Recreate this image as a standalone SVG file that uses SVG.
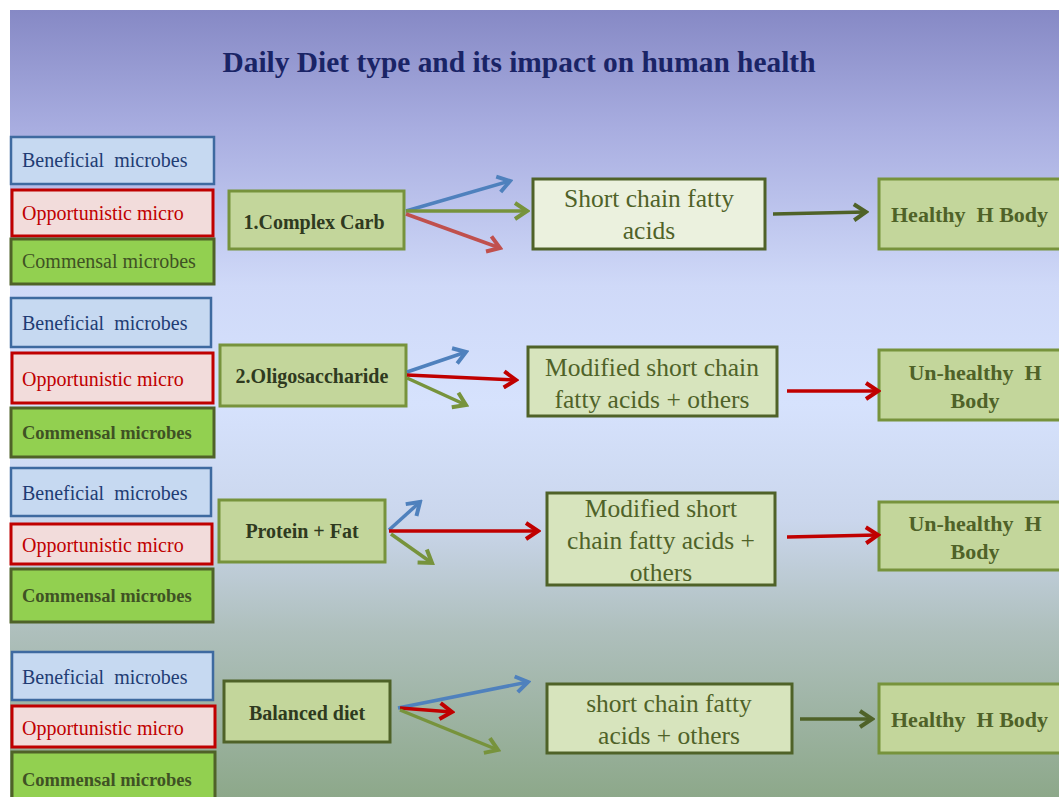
<svg xmlns="http://www.w3.org/2000/svg" width="1059" height="797" viewBox="0 0 1059 797">
<defs>
<linearGradient id="bg" x1="0" y1="10" x2="0" y2="797" gradientUnits="userSpaceOnUse">
<stop offset="0" stop-color="#8689c5"/>
<stop offset="0.15" stop-color="#a8ade0"/>
<stop offset="0.35" stop-color="#cfd9f8"/>
<stop offset="0.5" stop-color="#d6e2fd"/>
<stop offset="0.65" stop-color="#cad6ec"/>
<stop offset="0.79" stop-color="#aebfbc"/>
<stop offset="1" stop-color="#8da88a"/>
</linearGradient>
<marker id="mB" viewBox="0 0 20 20" refX="17" refY="10" markerWidth="20" markerHeight="20" markerUnits="userSpaceOnUse" orient="auto"><path d="M5,2 L17,10 L5,18" fill="none" stroke="#4f81bd" stroke-width="4"/></marker>
<marker id="mG" viewBox="0 0 20 20" refX="17" refY="10" markerWidth="20" markerHeight="20" markerUnits="userSpaceOnUse" orient="auto"><path d="M5,2 L17,10 L5,18" fill="none" stroke="#77933c" stroke-width="4"/></marker>
<marker id="mR" viewBox="0 0 20 20" refX="17" refY="10" markerWidth="20" markerHeight="20" markerUnits="userSpaceOnUse" orient="auto"><path d="M5,2 L17,10 L5,18" fill="none" stroke="#c0504d" stroke-width="4"/></marker>
<marker id="mRR" viewBox="0 0 20 20" refX="17" refY="10" markerWidth="20" markerHeight="20" markerUnits="userSpaceOnUse" orient="auto"><path d="M5,2 L17,10 L5,18" fill="none" stroke="#c00000" stroke-width="4"/></marker>
<marker id="mD" viewBox="0 0 20 20" refX="17" refY="10" markerWidth="20" markerHeight="20" markerUnits="userSpaceOnUse" orient="auto"><path d="M5,2 L17,10 L5,18" fill="none" stroke="#4f6228" stroke-width="4"/></marker>
</defs>
<style>
text{font-family:"Liberation Serif","Times New Roman",serif;white-space:pre}
.ben rect{fill:#c6d9f1;stroke:#3e6aa0;stroke-width:2.5}
.ben text{fill:#1f3c74;font-size:20px}
.opp rect{fill:#f2dcdb;stroke:#c00000;stroke-width:3}
.opp text{fill:#c00000;font-size:20px}
.com rect{fill:#92d050;stroke:#4f6228;stroke-width:3}
.com text{fill:#3f5224;font-size:18.5px;font-weight:bold}
.com text.n{font-size:20px;font-weight:normal}
.diet rect{fill:#c3d69b;stroke:#77933c;stroke-width:3}
.diet text{fill:#2f3a20;font-size:20px;font-weight:bold;text-anchor:middle}
.prod rect{fill:#d7e4bd;stroke:#4f6228;stroke-width:3}
.prod text{fill:#4f6228;font-size:25.5px;text-anchor:middle}
.out rect{fill:#c3d69b;stroke:#77933c;stroke-width:3}
.out text{fill:#4f6228;font-size:22px;font-weight:bold}
.out text.c{text-anchor:middle}
.cn path{fill:none;stroke-width:3.5}
.b{stroke:#4f81bd}.g{stroke:#77933c}.r{stroke:#c0504d}.rr{stroke:#c00000}.d{stroke:#4f6228}
</style>
<rect x="0" y="0" width="1059" height="797" fill="#ffffff"/>
<rect x="10" y="10" width="1049" height="787" fill="url(#bg)"/>
<text id="title" x="519" y="72" text-anchor="middle" font-size="29" font-weight="bold" fill="#1a2466" textLength="593" lengthAdjust="spacingAndGlyphs">Daily Diet type and its impact on human health</text>

<!-- Row 1 -->
<g id="ben1" class="ben"><rect x="11" y="137" width="203" height="47"/><text x="22" y="167">Beneficial  microbes</text></g>
<g id="opp1" class="opp"><rect x="12" y="190" width="201" height="46"/><text x="22" y="220">Opportunistic micro</text></g>
<g id="com1" class="com"><rect x="11" y="239" width="203" height="45"/><text class="n" x="22" y="268">Commensal microbes</text></g>
<g id="diet1" class="diet"><rect x="229" y="191" width="175" height="58"/><text x="314" y="229">1.Complex Carb</text></g>
<g id="prod1" class="prod"><rect x="533" y="179" width="232" height="70" style="fill:#ebf1de"/><text x="649" y="207">Short chain fatty</text><text x="649" y="239">acids</text></g>
<g id="out1" class="out"><rect x="879" y="179" width="186" height="70"/><text x="891" y="222">Healthy  H Body</text></g>

<!-- Row 2 -->
<g id="ben2" class="ben"><rect x="11" y="298" width="200" height="49"/><text x="22" y="330">Beneficial  microbes</text></g>
<g id="opp2" class="opp"><rect x="12" y="353" width="201" height="50"/><text x="22" y="386">Opportunistic micro</text></g>
<g id="com2" class="com"><rect x="11" y="408" width="203" height="49"/><text x="22" y="439">Commensal microbes</text></g>
<g id="diet2" class="diet"><rect x="220" y="345" width="186" height="61"/><text x="312" y="383">2.Oligosaccharide</text></g>
<g id="prod2" class="prod"><rect x="528" y="347" width="249" height="69"/><text x="652" y="376">Modified short chain</text><text x="652" y="408">fatty acids + others</text></g>
<g id="out2" class="out"><rect x="879" y="350" width="186" height="70"/><text class="c" x="975" y="380">Un-healthy  H</text><text class="c" x="975" y="408">Body</text></g>

<!-- Row 3 -->
<g id="ben3" class="ben"><rect x="11" y="468" width="200" height="48"/><text x="22" y="500">Beneficial  microbes</text></g>
<g id="opp3" class="opp"><rect x="11" y="524" width="201" height="40"/><text x="22" y="552">Opportunistic micro</text></g>
<g id="com3" class="com"><rect x="11" y="569" width="202" height="53"/><text x="22" y="602">Commensal microbes</text></g>
<g id="diet3" class="diet"><rect x="219" y="500" width="166" height="62"/><text x="302" y="538">Protein + Fat</text></g>
<g id="prod3" class="prod"><rect x="547" y="493" width="228" height="92"/><text x="661" y="517">Modified short</text><text x="661" y="549">chain fatty acids +</text><text x="661" y="581">others</text></g>
<g id="out3" class="out"><rect x="879" y="502" width="186" height="68"/><text class="c" x="975" y="531">Un-healthy  H</text><text class="c" x="975" y="559">Body</text></g>

<!-- Row 4 -->
<g id="ben4" class="ben"><rect x="12" y="652" width="201" height="48"/><text x="22" y="684">Beneficial  microbes</text></g>
<g id="opp4" class="opp"><rect x="12" y="706" width="203" height="41"/><text x="22" y="735">Opportunistic micro</text></g>
<g id="com4" class="com"><rect x="12" y="752" width="203" height="50"/><text x="22" y="786">Commensal microbes</text></g>
<g id="diet4" class="diet"><rect x="224" y="681" width="166" height="61" style="stroke:#4f6228"/><text x="307" y="720">Balanced diet</text></g>
<g id="prod4" class="prod"><rect x="547" y="684" width="245" height="69"/><text x="669" y="712">short chain fatty</text><text x="669" y="744">acids + others</text></g>
<g id="out4" class="out"><rect x="879" y="684" width="186" height="69"/><text x="891" y="727">Healthy  H Body</text></g>

<g id="connectors" class="cn">
<path class="b" d="M406,211 L510,181" marker-end="url(#mB)"/>
<path class="g" d="M406,211 L527,211" marker-end="url(#mG)"/>
<path class="r" d="M406,214 L500,248" marker-end="url(#mR)"/>
<path class="d" d="M773,214 L866,212" marker-end="url(#mD)"/>

<path class="b" d="M407,372 L466,352" marker-end="url(#mB)"/>
<path class="rr" d="M407,375 L516,380" marker-end="url(#mRR)"/>
<path class="g" d="M407,378 L466,405" marker-end="url(#mG)"/>
<path class="rr" d="M787,391 L878,391" marker-end="url(#mRR)"/>

<path class="b" d="M389,530 L420,502" marker-end="url(#mB)"/>
<path class="rr" d="M389,531 L538,531" marker-end="url(#mRR)"/>
<path class="g" d="M391,534 L432,563" marker-end="url(#mG)"/>
<path class="rr" d="M787,537 L878,535" marker-end="url(#mRR)"/>

<path class="b" d="M398,708 L528,682" marker-end="url(#mB)"/>
<path class="rr" d="M400,708 L452,712" marker-end="url(#mRR)"/>
<path class="g" d="M400,710 L498,750" marker-end="url(#mG)"/>
<path class="d" d="M800,719 L872,719" marker-end="url(#mD)"/>
</g>
</svg>
